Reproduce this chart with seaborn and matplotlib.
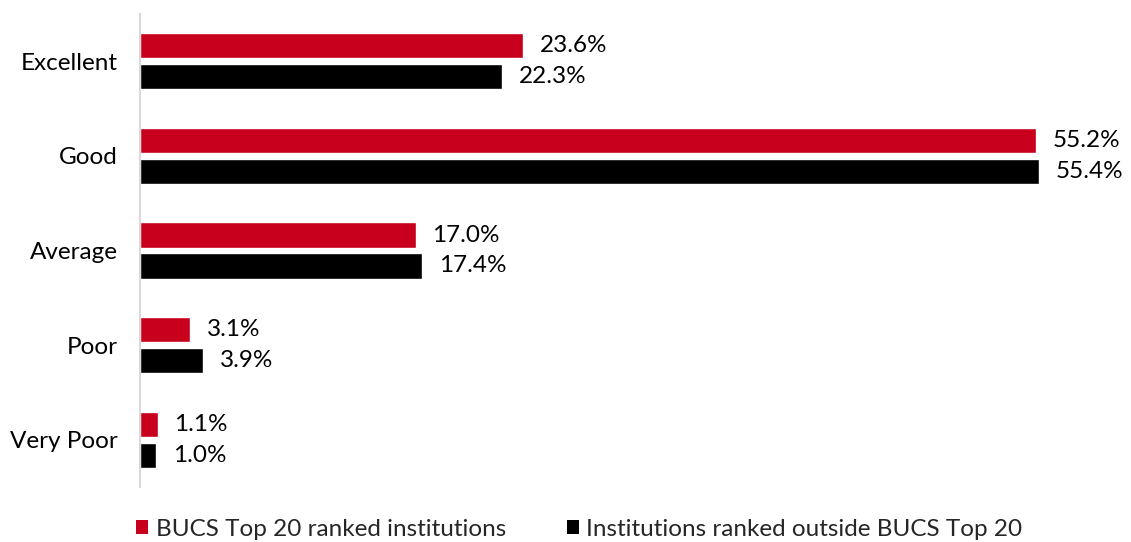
import matplotlib
matplotlib.use("Agg")
import matplotlib.pyplot as plt
import seaborn as sns
import pandas as pd
from matplotlib.patches import Patch

categories = ["Excellent", "Good", "Average", "Poor", "Very Poor"]
series_names = ["BUCS Top 20 ranked institutions", "Institutions ranked outside BUCS Top 20"]
top20 = [23.6, 55.2, 17.0, 3.1, 1.1]
outside = [22.3, 55.4, 17.4, 3.9, 1.0]
colors = ["#C8001E", "#000000"]

df = pd.DataFrame({
    "rating": categories * 2,
    "group": [series_names[0]] * len(categories) + [series_names[1]] * len(categories),
    "pct": top20 + outside,
})

sns.set_theme(style="white")
plt.rcParams["font.family"] = ["Lato", "DejaVu Sans"]
FS = 17.5

fig = plt.figure(figsize=(11.31, 5.42), dpi=100)
ax = fig.add_axes([140 / 1131, 1 - 487 / 542, 980 / 1131, 473 / 542])

sns.barplot(data=df, y="rating", x="pct", hue="group", order=categories,
            hue_order=series_names, palette=colors, orient="h",
            width=0.655, gap=0.19, legend=False, ax=ax, saturation=1)

ax.set_xlim(0, 60.4)
ax.set_ylim(4.5, -0.5)
ax.set_xlabel("")
ax.set_ylabel("")
ax.set_xticks([])
for side in ["top", "right", "bottom"]:
    ax.spines[side].set_visible(False)
ax.spines["left"].set_color("#D9D9D9")
ax.spines["left"].set_linewidth(1.5)
ax.tick_params(axis="y", length=0, pad=16, labelsize=FS, labelcolor="#000000")

for container in ax.containers:
    ax.bar_label(container, labels=[f"{v:.1f}%" for v in container.datavalues],
                 padding=12, fontsize=FS, color="#000000")

handles = [Patch(facecolor=c, edgecolor="none") for c in colors]
fig.legend(handles, series_names, loc="lower center", ncol=2, frameon=False,
           bbox_to_anchor=(0.512, -0.036), fontsize=FS, handlelength=0.5,
           handleheight=0.5, handletextpad=0.3, columnspacing=2.5)

fig.savefig("out.png", dpi=100)
